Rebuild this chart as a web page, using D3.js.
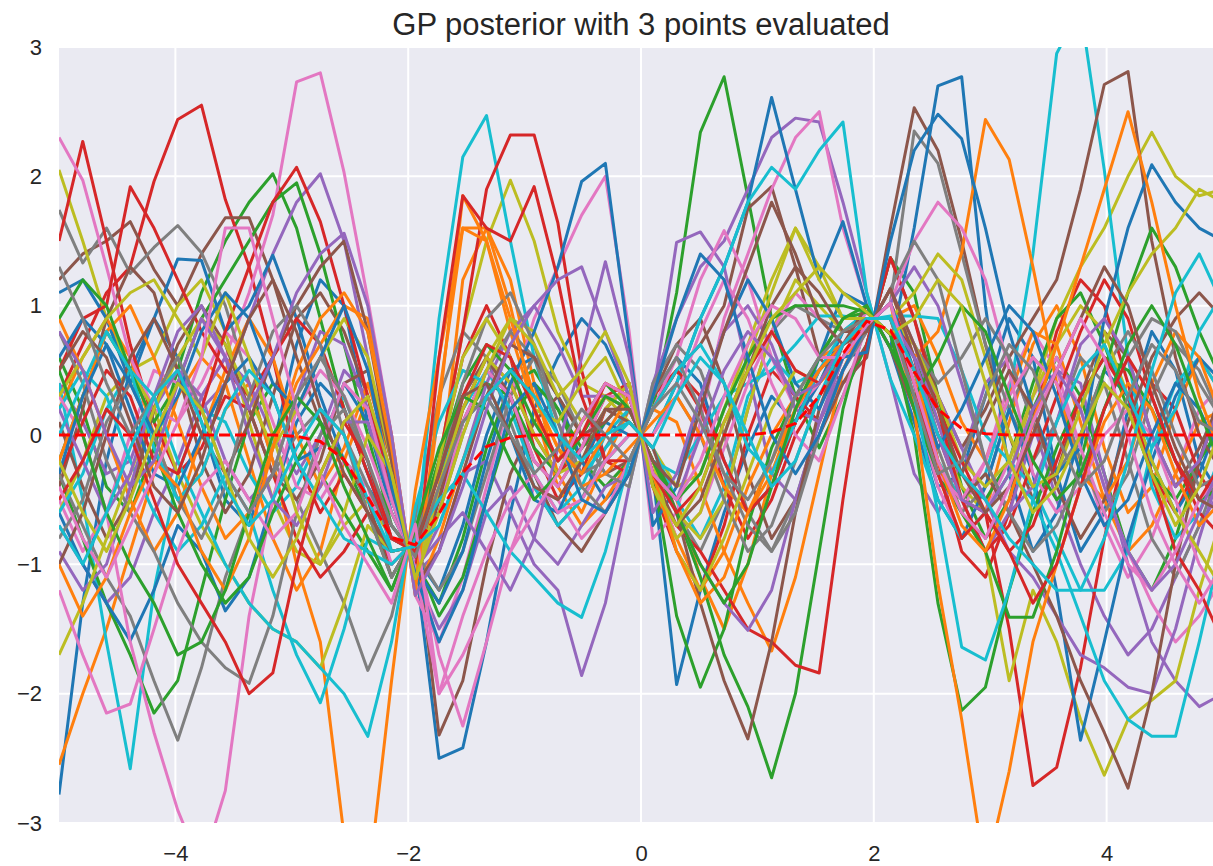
<!DOCTYPE html>
<html><head><meta charset="utf-8">
<script src="https://cdn.jsdelivr.net/npm/d3@7"></script>
<style>body{margin:0;background:#fff}svg{display:block}</style>
</head><body>
<svg id="chart" width="1213" height="866"></svg>
<script>
const titleText = "GP posterior with 3 points evaluated";
const xTicks = [-4, -2, 0, 2, 4];
const xTickLabels = ["\u22124", "\u22122", "0", "2", "4"];
const yTicks = [-3, -2, -1, 0, 1, 2, 3];
const yTickLabels = ["\u22123", "\u22122", "\u22121", "0", "1", "2", "3"];

const xs = [-5.000,-4.796,-4.592,-4.388,-4.184,-3.980,-3.776,-3.571,-3.367,-3.163,-2.959,-2.755,-2.551,-2.347,-2.143,-1.939,-1.735,-1.531,-1.327,-1.122,-0.918,-0.714,-0.510,-0.306,-0.102,0.102,0.306,0.510,0.714,0.918,1.122,1.327,1.531,1.735,1.939,2.143,2.347,2.551,2.755,2.959,3.163,3.367,3.571,3.776,3.980,4.184,4.388,4.592,4.796,5.000];

const meanLine = [0,0,0,0,0,0,0,0,0,0,-0.01,-0.05,-0.19,-0.48,-0.79,-0.85,-0.61,-0.29,-0.09,-0.02,0,0,0,0,0,0,0,0,0,0,0.02,0.09,0.30,0.63,0.88,0.81,0.49,0.20,0.05,0.01,0,0,0,0,0,0,0,0,0,0];

const s00 = [-2.78,-1.3,-0.2,0.5,0.9,0.6,0.1,-0.5,-0.7,-0.1,0.7,1.2,1.0,0.1,-0.6, -0.99,-2.5,-2.42,-1.6,-0.6,0.2,0.6,0.9,0.7,0.3, -0.3,-1.93,-1.2,-0.6,-0.1,0.3,0.1,0.4,0.8,0.95, 0.78,0.2,-0.4,-0.3,0.3,0.9,0.6,-0.3,-0.9,-0.6,0.2,0.8,0.5,-0.2,-0.5];
const s01 = [-2.55,-2.0,-1.5,-0.9,-0.3,0.3,0.6,0.4,-0.2,-0.8,-1.2,-0.9,-0.2,0.3,-0.3, -1.11,-0.4,1.2,1.6,1.2,0.4,-0.3,-0.6,-0.2,0.2, -0.2,-0.5,-1.1,-1.5,-1.0,-0.3,0.2,0.6,0.7,0.9, 0.9,0.4,-0.3,-0.8,-0.6,0.1,0.7,1.0,0.6,-0.1,-0.6,-0.4,0.2,0.6,0.3];
const s02 = [0.6,0.2,-0.4,-0.6,-0.1,0.5,1.1,1.5,1.8,2.02,1.6,0.9,0.2,-0.3,-0.6, -0.99,-1.3,-0.8,-0.1,0.4,0.5,0.2,-0.2,-0.4,-0.2, 0.2,1.1,2.34,2.77,1.84,0.9,0.3,-0.1,0.3,0.7, 1.37,1.1,0.3,-0.4,-0.8,-0.5,0.2,0.6,0.3,-0.3,-0.9,-1.2,-0.8,-0.2,0.3];
const s03 = [0.3,0.7,1.1,1.3,1.96,2.44,2.55,1.82,1.3,0.6,-0.2,-0.6,-0.3,-0.6,-1.0, -0.81,-0.2,0.6,1.0,0.6,-0.1,-0.5,-0.3,0.2,0.4, -0.4,-0.9,-1.2,-0.7,0.0,0.5,0.3,0.1,0.5,0.85, 1.02,0.6,-0.2,-0.9,-1.1,-0.6,0.1,0.8,1.2,1.0,0.4,-0.3,-0.6,-0.2,0.3];
const s04 = [0.4,0.1,-0.3,-0.2,0.3,0.5,0.2,0.4,0.9,1.4,1.8,2.02,1.5,0.6,-0.4, -1.07,-0.9,-0.3,-0.2,-0.6,-1.0,-1.2,-1.86,-1.3,-0.4, 0.4,0.9,1.3,1.5,1.9,2.3,2.45,2.42,1.8,1.1, 0.43,-0.3,-0.6,-0.2,0.4,0.6,0.1,-0.5,-1.0,-1.4,-1.7,-1.5,-1.1,-0.7,-0.4];
const s05 = [1.2,1.4,1.5,1.65,1.28,1.0,1.4,1.68,1.68,1.2,0.6,0.1,-0.2,-0.5,-1.1, -0.77,-2.32,-1.9,-1.0,-0.3,0.1,0.3,0.0,-0.3,-0.2, 0.2,0.5,0.7,1.0,1.75,1.92,1.3,0.6,0.4,0.6, 1.6,2.53,2.2,1.5,0.7,0.0,-0.5,-0.3,0.3,0.8,0.6,0.0,-0.4,-0.1,0.3];
const s06 = [-0.5,-0.9,-0.6,0.0,0.5,0.4,0.3,0.6,1.1,1.7,2.73,2.8,2.03,1.05,0.0, -1.24,-1.6,-1.1,-0.4,0.3,0.9,1.3,1.7,2.0,0.8, -0.8,-0.6,0.1,0.9,1.4,1.9,2.3,2.5,1.6,1.0, 0.67,0.2,-0.3,-0.6,-0.2,0.4,0.8,0.5,-0.1,-0.7,-1.1,-0.8,-0.3,0.2,0.4];
const s07 = [1.74,1.33,1.6,1.25,1.45,1.62,1.41,1.0,0.4,-0.2,-0.5,-0.9,-1.3,-1.82,-1.4, -0.64,0.3,0.8,0.6,0.1,-0.4,-0.7,-0.5,-0.1,0.2, -0.2,-0.6,-0.9,-0.5,0.2,0.8,1.0,0.9,0.8,0.85, 1.02,2.35,2.1,1.4,0.7,0.2,-0.2,0.1,0.6,0.4,-0.2,-0.8,-1.1,-0.7,-0.2];
const s08 = [2.05,1.5,0.9,0.5,0.6,1.0,1.2,0.8,0.1,-0.5,-0.9,-1.0,-0.7,-0.5,-0.8, -0.9,-0.2,0.8,1.5,1.97,1.5,0.8,0.4,0.3,0.1, -0.1,-0.4,-0.3,0.2,0.7,1.2,1.6,1.3,0.9,0.95, 0.78,0.5,0.0,-0.4,-0.6,-0.3,0.3,0.9,1.3,1.6,2.0,2.34,2.0,1.85,1.9];
const s09 = [0.4,-0.5,-1.6,-2.58,-1.2,-0.3,0.2,0.1,-0.3,-0.6,-0.4,0.0,0.3,-0.2,-0.9, -0.86,0.9,2.15,2.47,1.5,0.6,0.0,-0.3,-0.1,0.1, -0.1,-0.5,-0.8,-0.4,0.3,0.6,0.4,0.5,0.8,0.95, 0.78,0.4,-0.2,-0.5,-0.3,0.3,1.4,2.95,3.3,2.05,0.6,-0.4,-0.8,-0.6,-0.1];
const s10 = [1.1,1.2,0.9,0.4,0.9,1.36,1.35,0.8,1.0,1.39,0.9,0.3,-0.2,-0.4,-0.7, -0.94,-1.2,-0.7,0.0,0.5,0.6,0.3,-0.2,-0.5,-0.3, 0.3,0.6,0.4,-0.2,-0.6,-0.4,0.1,0.6,1.1,1.0, 0.67,1.6,2.7,2.77,1.0,-0.3,-0.9,-0.6,0.0,0.5,0.3,-0.2,-0.6,-0.3,0.2];
const s11 = [0.2,0.6,0.9,0.6,0.0,-0.5,-0.3,0.2,0.4,-0.2,-1.0,-1.6,-3.1,-3.5,-1.9, -0.43,0.6,1.6,1.6,1.0,0.2,-0.4,-0.7,-0.5,-0.2, 0.2,0.1,-0.4,-0.9,-1.3,-1.67,-1.1,-0.3,0.5,0.9, 0.9,1.0,0.6,0.1,-0.2,0.3,0.8,0.7,0.1,-0.5,-0.9,-0.7,-0.3,0.1,0.2];
const s12 = [-0.3,-0.8,-1.3,-1.7,-2.15,-1.9,-1.2,-0.5,0.1,0.4,0.2,-0.3,-0.6,-0.9,-1.2, -0.73,-0.3,0.1,0.4,0.3,-0.1,-0.3,0.0,0.3,0.2, -0.2,-0.6,-1.1,-1.7,-2.1,-2.65,-2.0,-0.9,0.2,0.9, 0.9,0.6,0.1,-0.3,-0.5,-0.2,0.4,0.9,1.1,0.7,0.2,-0.3,-0.5,-0.2,0.1];
const s13 = [1.5,2.27,1.5,0.7,0.1,-0.3,-0.1,0.3,0.2,-0.3,-0.8,-1.1,-0.9,-0.6,-0.9, -0.86,-0.2,0.8,1.9,2.32,2.32,1.64,0.5,-0.2,-0.3, 0.3,0.5,0.2,-0.4,-0.8,-0.5,0.0,0.3,0.6,0.9, 0.9,0.5,0.0,-0.5,-0.6,-1.5,-2.71,-2.57,-1.8,-0.8,0.0,0.4,0.2,-0.3,-0.6];
const s14 = [-0.7,-1.0,-1.3,-1.1,-0.6,-0.2,0.3,0.6,0.4,0.0,-0.3,0.0,0.5,0.3,-0.4, -1.07,-1.5,-1.2,-0.6,-0.4,-0.8,-1.0,-0.7,-0.4,-0.3, 0.3,1.49,1.57,1.3,0.5,-0.3,-0.5,0.0,0.5,0.8, 1.13,0.7,0.1,-0.5,-0.9,-0.6,0.0,0.5,0.4,-0.3,-1.0,-1.6,-1.9,-2.1,-2.0];
const s15 = [-0.4,0.2,0.9,1.3,1.1,0.5,-0.2,-0.6,-0.3,0.3,0.9,1.1,0.8,0.3,-0.5, -1.03,-0.6,0.1,0.5,0.3,-0.3,-0.7,-0.9,-0.6,-0.3, 0.3,0.7,0.9,0.4,-0.3,-0.8,-0.5,0.0,0.4,0.7, 1.37,0.9,0.3,-0.1,0.2,0.6,0.9,1.2,1.9,2.71,2.81,1.5,0.6,0.0,-0.3];
const s16 = [2.3,1.97,1.3,0.6,0.2,0.1,0.4,0.8,0.6,0.1,-0.4,-0.5,-0.2,-0.4,-1.0, -0.81,-1.7,-2.25,-1.6,-0.9,-0.4,-0.5,-0.8,-0.6,-0.2, 0.2,0.6,1.2,1.58,1.2,0.6,0.2,0.4,0.7,0.95, 0.78,0.3,-0.4,-0.8,-0.6,-0.2,0.3,0.6,0.2,-0.4,-0.9,-1.3,-1.6,-1.4,-1.1];
const s17 = [-0.3,-0.7,-1.1,-1.4,-1.9,-2.36,-1.8,-1.1,-0.6,-0.3,0.0,0.2,0.0,-0.4,-0.8, -0.9,-1.2,-0.9,-0.3,0.3,0.6,0.4,0.0,-0.3,-0.4, 0.4,0.7,0.5,0.0,-0.6,-0.9,-0.5,0.1,0.6,0.9, 0.9,0.5,-0.1,-0.6,-0.4,0.2,0.6,0.4,-0.2,-0.6,-0.3,0.3,0.7,0.5,0.1];
const s18 = [-0.6,-0.2,0.3,0.5,0.2,-0.3,-0.7,-1.0,-1.3,-1.5,-1.6,-1.8,-1.3,-0.7,-0.9, -0.86,-0.4,0.2,0.6,0.9,0.8,0.4,0.1,0.3,0.2, -0.2,-0.6,-0.8,-0.5,0.2,0.8,1.2,1.0,0.8,0.9, 0.9,0.4,-0.2,-0.6,-0.9,-1.9,-1.2,-1.6,-2.2,-2.63,-2.2,-2.05,-1.9,-1.2,-0.6];
const s19 = [0.2,0.5,0.3,-0.2,-0.6,-0.9,-0.7,-0.3,-0.6,-1.2,-1.7,-2.07,-1.5,-0.8,-0.9, -0.86,-0.3,0.2,0.5,0.2,-0.3,-0.6,-0.4,0.0,0.2, -0.2,-0.3,0.0,0.3,0.4,0.5,0.7,0.92,0.92,0.89, 0.92,0.92,0.9,0.5,0.0,-0.2,-0.4,-0.8,-1.2,-1.2,-0.9,-0.1,0.4,0.6,0.3];
const s20 = [-0.6,-1.0,-1.3,-1.59,-1.2,-0.7,-0.9,-1.36,-1.1,-0.5,0.1,0.4,0.2,-0.3,-0.8, -0.9,-0.5,0.1,0.3,0.0,-0.5,-0.6,-0.2,0.1,0.0, 0.0,0.4,0.9,1.3,1.8,2.61,1.9,1.2,1.65,1.0, 0.67,0.1,-0.5,-0.8,-0.4,0.2,-0.3,-1.2,-2.36,-1.6,-0.8,-0.2,0.3,0.6,0.4];
const s21 = [0.9,0.5,0.0,-0.5,-0.9,-0.6,0.0,0.5,0.9,0.6,0.0,-0.4,-0.1,0.4,-0.2, -1.16,0.2,1.85,1.5,0.8,0.2,-0.2,0.1,0.4,0.3, -0.3,-0.8,-1.2,-0.9,-0.4,0.0,0.3,0.4,0.6,0.8, 1.13,0.6,0.8,1.41,2.44,2.13,1.3,0.4,-0.3,-0.5,-0.2,0.4,0.8,0.6,0.1];
const s22 = [-0.2,0.3,0.8,0.5,0.1,0.4,0.9,1.2,1.5,1.8,1.95,1.4,0.7,0.0,-0.7, -0.94,-1.4,-1.1,-0.5,0.1,0.4,0.2,-0.1,0.1,0.3, -0.3,-1.4,-1.95,-1.5,-0.7,-0.1,0.3,0.6,0.9,0.95, 0.78,0.0,-1.3,-2.13,-1.95,-1.2,-0.6,-0.1,0.3,0.6,0.5,0.2,-0.2,-0.5,-0.4];
const s23 = [0.5,0.9,1.0,1.92,1.6,1.2,0.8,0.5,0.3,0.6,0.9,0.7,0.2,-0.3,-0.8, -0.9,-0.5,0.2,0.6,0.4,0.0,-0.3,-0.1,0.3,0.4, -0.4,-0.7,-0.9,-1.2,-1.5,-1.6,-1.78,-1.84,-0.5,0.7, 1.37,0.9,0.2,-0.5,-0.9,-0.7,-0.2,0.3,0.8,1.2,0.9,0.3,-0.2,-0.6,-0.8];
const s24 = [-0.9,-1.2,-1.0,-0.4,0.2,0.5,0.3,-0.2,-0.5,-0.3,0.3,0.8,0.7,0.2,-0.4, -1.07,-0.7,-0.2,0.4,0.8,1.0,0.7,0.3,0.3,0.2, -0.2,-0.6,-1.0,-1.3,-1.51,-1.2,-0.5,0.1,0.6,0.9, 0.9,0.6,0.3,-0.1,-0.5,-0.9,-1.1,-1.4,-1.7,-1.8,-1.95,-2.0,-1.5,-0.8,-0.2];
const s25 = [0.1,-0.4,-0.8,-0.5,0.2,0.7,1.0,0.7,0.2,-0.3,-0.5,-0.2,0.4,0.5,-0.2, -1.16,-0.5,0.3,0.6,0.3,-0.2,-0.4,-0.1,0.2,0.1, -0.1,-0.6,-1.3,-1.9,-2.35,-1.6,-0.6,0.2,0.7,1.0, 0.67,0.2,-0.3,-0.5,-0.3,-0.6,-1.0,-1.4,-1.9,-2.3,-2.73,-2.0,-1.0,-0.2,0.4];
const s26 = [0.3,0.0,-0.6,-1.6,-2.3,-2.9,-3.35,-2.75,-1.4,-0.5,0.2,0.5,0.3,-0.1,-0.6, -0.99,-0.6,0.1,0.5,0.3,-0.2,-0.4,-0.1,0.3,0.3, -0.3,-0.8,-0.6,-0.1,0.4,0.8,1.1,0.9,0.7,0.85, 1.02,1.5,1.8,1.6,1.2,0.5,-0.3,-0.6,-0.4,0.0,0.2,0.0,-0.5,-1.0,-1.3];
const s27 = [0.8,0.4,-0.2,-0.6,-0.9,-1.3,-1.6,-1.8,-1.92,-1.4,-0.6,0.0,0.2,-0.2,-0.8, -0.9,-0.6,0.0,0.5,0.8,0.6,0.1,-0.3,-0.2,0.0, 0.0,0.3,0.0,-0.5,-0.9,-0.7,-0.2,0.3,0.6,0.9, 0.9,0.7,0.4,0.6,0.9,0.6,0.1,-0.3,0.0,0.5,0.8,0.5,0.0,-0.4,-0.3];
const s28 = [-1.7,-1.3,-0.8,-0.3,0.2,0.6,0.9,0.7,0.3,-0.1,0.2,0.6,0.9,0.6,-0.2, -1.16,-0.4,0.2,0.6,0.4,0.0,-0.3,-0.2,0.2,0.4, -0.4,-0.8,-0.6,0.0,0.6,1.1,1.6,1.2,0.9,0.9, 0.9,0.7,0.3,-0.2,-0.4,-0.2,0.3,0.7,1.0,0.8,0.3,-0.2,-0.6,-0.9,-1.2];
const s29 = [-0.6,-0.3,0.2,0.5,0.3,-0.2,-0.6,-1.0,-1.3,-1.5,-1.6,-1.8,-2.0,-2.33,-1.6, -0.56,0.1,0.5,0.4,0.0,-0.4,-0.7,-0.5,-0.2,0.0, 0.0,0.4,0.9,1.3,1.8,2.07,1.9,2.2,2.42,1.1, 0.43,0.0,-0.5,-0.8,-0.6,-0.3,-0.5,-0.9,-1.4,-1.9,-2.2,-2.33,-2.33,-1.6,-0.8];
const s30 = [0.6,0.9,0.7,0.2,-0.3,-0.4,0.0,0.4,0.6,0.3,-0.2,-0.1,0.4,0.1,-0.5, -1.03,-1.3,-0.9,-0.2,0.4,0.8,1.3,1.96,2.1,0.7, -0.7,-0.4,0.3,0.8,1.2,0.9,0.4,0.2,0.6,0.64, 1.5,2.2,2.48,2.29,1.6,0.8,0.2,-0.3,-0.1,0.9,1.6,2.09,1.8,1.6,1.5];
const s31 = [-0.2,0.3,0.8,1.0,0.6,0.1,-0.4,-0.8,-0.6,-0.1,0.4,0.7,1.0,0.9,0.0, -1.24,-0.8,-0.2,0.3,0.5,0.3,-0.1,-0.4,-0.3,-0.1, 0.1,0.3,0.0,-0.4,-0.6,-0.3,0.2,0.5,0.7,0.85, 1.02,0.2,-1.15,-2.2,-3.4,-2.6,-1.6,-1.0,-0.4,0.1,0.4,0.2,-0.3,-0.7,-0.5];
const s32 = [0.9,1.2,1.0,0.5,-0.1,-0.6,-1.0,-1.3,-1.1,-0.6,-0.2,0.1,-0.2,-0.6,-1.1, -0.77,-0.2,0.4,0.7,0.5,0.1,-0.2,0.0,0.3,0.2, -0.2,-0.5,-0.3,0.2,0.6,0.9,1.0,1.0,1.0,0.95, 0.78,0.2,-0.3,-0.6,-0.9,-1.41,-1.41,-0.9,-0.2,0.5,1.1,1.6,1.3,0.8,0.4];
const s33 = [-0.3,0.1,0.5,0.3,-0.2,-0.3,0.2,0.8,1.3,1.8,2.07,1.65,1.0,0.3,-0.4, -1.07,0.6,1.85,1.6,1.5,1.92,1.2,0.3,-0.2,-0.2, 0.2,0.5,0.3,-0.2,-0.6,-0.4,0.1,0.5,0.7,0.9, 0.9,0.5,0.2,-0.2,-0.6,-0.9,-0.7,-0.2,0.3,0.6,0.3,-0.3,-0.9,-1.2,-1.6];
const s34 = [0.2,-0.2,-0.6,-0.3,0.3,0.8,1.0,0.6,0.0,-0.5,-0.7,-0.4,0.1,0.1,-0.5, -1.03,-0.8,-0.6,-0.9,-1.2,-0.8,-0.1,0.6,1.34,0.6, -0.6,-0.3,0.3,0.8,1.0,0.7,0.2,0.1,0.5,0.85, 1.02,1.3,1.0,0.4,-0.2,-0.6,-0.4,0.1,0.7,0.9,0.6,0.0,-0.4,-0.2,0.3];
const s35 = [-1.0,-0.6,0.0,0.6,0.9,0.5,0.0,-0.3,0.1,0.6,1.0,1.3,1.5,0.8,-0.2, -1.16,-0.9,-0.3,0.3,0.7,0.6,0.3,0.0,0.1,0.3, -0.3,-0.7,-0.5,0.0,0.5,1.0,1.3,1.1,0.8,0.8, 1.13,0.6,0.0,-0.3,0.1,0.5,0.2,-0.4,-0.8,-0.5,0.1,0.6,0.9,1.1,0.9];
const s36 = [-1.2,-1.7,-2.15,-2.08,-1.5,-0.9,-0.4,-0.2,-0.5,-0.8,-0.6,-0.1,0.4,0.2,-0.5, -1.03,-2.0,-1.4,-0.9,-0.5,-0.3,-0.6,-0.5,-0.2,0.0, 0.0,0.3,0.8,1.2,0.9,0.4,0.0,-0.2,0.3,0.85, 1.02,0.4,-0.3,-0.5,-0.2,0.3,0.6,0.4,-0.1,-0.6,-1.0,-1.2,-0.9,-0.5,-0.3];
const s37 = [-0.8,-0.5,0.1,0.4,0.0,-0.5,-0.8,-0.4,0.3,0.8,1.0,0.7,0.0,-0.6,-1.1, -0.77,-0.3,0.4,0.9,1.1,0.7,0.1,-0.4,-0.6,-0.3, 0.3,0.6,0.2,-0.3,-0.7,-0.9,-0.6,0.0,0.5,0.8, 1.13,1.5,1.2,0.5,-0.2,-0.6,-0.9,-0.7,-0.3,0.2,0.6,0.9,0.8,0.4,0.1];
const s38 = [0.3,0.6,0.9,1.1,1.2,0.9,0.6,1.1,0.6,0.0,-0.6,-1.0,-0.6,0.0,-0.3, -1.11,-0.2,0.6,0.9,0.6,0.2,0.1,0.4,0.6,0.2, -0.2,-0.9,-1.2,-0.8,-0.3,0.2,0.5,0.4,0.7,0.9, 0.9,1.1,1.4,1.2,0.6,0.0,-0.4,-0.3,0.2,0.7,1.1,1.4,1.6,1.9,1.8];
const s39 = [0.0,0.4,0.8,0.5,-0.1,-0.5,-0.3,0.2,0.5,0.3,-0.2,-0.5,-0.8,-0.9,-1.0, -0.81,-0.5,-0.3,-0.6,-0.9,-1.1,-1.3,-1.41,-0.9,-0.2, 0.2,0.5,0.7,0.4,-0.1,-0.3,0.1,0.5,0.7,0.9, 0.9,0.3,-0.6,-1.64,-1.74,-1.2,-0.5,0.1,0.5,0.7,0.3,-0.1,0.2,0.8,1.1];
const s40 = [-0.3,0.3,0.7,0.4,0.0,0.3,0.8,1.1,0.9,0.4,0.2,0.6,1.0,0.5,-0.4, -1.07,-1.6,-1.2,-0.5,0.2,0.4,0.0,-0.5,-0.6,-0.3, 0.3,0.9,1.4,1.2,0.6,0.0,-0.3,0.0,0.5,0.85, 1.02,0.5,-0.1,0.2,0.6,1.0,0.8,0.3,-0.3,-0.7,-0.5,0.0,0.4,0.2,-0.2];
const s41 = [-1.0,-1.4,-1.1,-0.6,-0.2,-0.4,-0.9,-1.2,-0.8,-0.1,0.5,0.9,1.1,0.8,-0.1, -1.2,0.3,1.6,1.5,0.9,0.3,-0.1,-0.3,0.0,0.3, -0.3,-0.9,-1.3,-1.1,-0.6,-0.2,0.2,0.5,0.7,0.9, 0.9,0.5,-0.2,-0.7,-0.9,-0.5,0.1,0.7,1.3,1.9,2.5,1.8,1.0,0.3,-0.2];
const s42 = [0.5,0.0,-0.6,-1.0,-1.3,-1.7,-1.6,-1.2,-0.6,0.0,0.3,0.1,-0.4,-0.8,-1.2, -0.73,-0.1,0.3,0.2,-0.2,-0.5,-0.3,0.1,0.4,0.2, -0.2,-0.6,-1.0,-1.3,-1.0,-0.4,0.2,0.6,0.9,1.0, 0.67,0.3,0.6,1.0,0.8,0.3,-0.2,-0.5,-0.3,0.2,0.7,1.0,0.7,0.2,-0.3];
const s43 = [-0.5,-0.2,0.2,0.0,-0.5,-1.0,-1.3,-1.6,-2.0,-1.84,-1.0,-0.3,0.1,-0.2,-0.8, -0.9,-0.3,0.3,0.7,0.6,0.2,-0.2,0.0,0.4,0.3, -0.3,-0.6,-0.4,0.1,0.5,0.8,0.5,0.4,0.7,0.9, 0.9,0.4,-0.3,-0.8,-0.6,-0.9,-1.3,-1.0,-0.4,0.2,0.6,0.3,-0.2,-0.5,-0.2];
const s44 = [0.8,0.5,0.0,-0.4,-0.2,0.4,0.9,0.6,0.2,0.6,1.1,1.4,1.56,1.0,0.0, -1.24,-0.9,-0.4,0.2,0.7,1.0,1.2,1.3,0.8,0.3, -0.3,-0.5,0.0,0.5,0.8,0.6,0.3,0.4,0.7,0.9, 0.9,0.6,0.0,-0.5,-0.6,-0.3,0.2,0.5,0.2,-0.4,-0.9,-1.2,-1.0,-0.6,-0.2];
const s45 = [0.5,0.8,0.6,0.1,-0.4,-0.6,-0.2,0.4,0.9,1.2,0.8,0.2,-0.3,-0.6,-0.9, -0.86,-0.3,0.3,0.4,0.0,-0.4,-0.5,-0.2,0.2,0.2, -0.2,-0.4,0.2,0.8,1.3,1.8,1.4,0.9,0.7,0.8, 1.13,0.7,0.2,-0.3,-0.6,-0.4,0.0,0.5,0.9,1.3,1.0,0.4,-0.1,-0.5,-0.6];
const s46 = [-0.4,-0.8,-1.1,-0.7,-0.3,0.1,0.6,1.6,1.6,0.9,0.2,-0.3,-0.7,-1.0,-1.3, -0.69,-2.0,-1.7,-1.3,-0.9,-0.6,-0.3,0.1,0.4,0.3, -0.3,-0.5,-0.2,0.3,0.7,1.0,0.9,0.6,0.6,0.85, 1.02,0.4,-0.2,-0.6,-0.8,-0.4,0.1,0.5,0.9,0.6,0.0,-0.6,-1.0,-1.3,-1.0];
const s47 = [1.3,0.9,0.4,0.0,0.3,0.6,0.2,-0.3,-0.6,-0.3,0.3,0.6,0.3,-0.2,-0.7, -0.94,-0.4,0.1,0.3,0.0,-0.3,-0.1,0.2,0.0,-0.2, 0.2,0.4,0.1,-0.3,-0.5,-0.2,0.3,0.6,0.8,0.9, 0.9,0.3,-0.3,-0.2,0.3,0.7,0.5,0.0,-0.4,-0.2,0.3,0.7,0.5,0.1,0.0];
const s48 = [-0.2,-0.6,-0.9,-0.5,0.0,0.4,0.2,-0.3,-0.8,-1.1,-0.8,-0.3,0.1,0.3,-0.3, -1.11,-0.6,0.0,0.5,0.9,0.7,0.3,0.5,0.8,0.4, -0.4,-0.7,-0.4,0.1,0.5,0.9,1.1,1.3,1.1,0.95, 0.78,0.9,1.2,1.0,0.4,-0.2,-0.6,-0.4,0.0,0.4,0.2,-0.3,-0.7,-0.4,0.1];
const s49 = [-0.7,-1.0,-0.6,-0.1,0.3,0.5,0.1,-0.4,-0.7,-0.5,-0.1,0.2,0.0,-0.5,-0.9, -0.86,-0.7,-0.2,0.3,0.5,0.3,0.0,-0.2,0.0,0.1, -0.1,0.3,0.6,0.4,0.0,-0.4,-0.2,0.3,0.7,0.9, 0.9,0.5,0.0,-0.3,-0.5,-0.8,-1.0,-1.2,-1.2,-0.8,-0.2,0.5,1.1,1.4,1.0];

const samples = [s00,s01,s02,s03,s04,s05,s06,s07,s08,s09,s10,s11,s12,s13,s14,s15,s16,s17,s18,s19,
  s20,s21,s22,s23,s24,s25,s26,s27,s28,s29,s30,s31,s32,s33,s34,s35,s36,s37,s38,s39,
  s40,s41,s42,s43,s44,s45,s46,s47,s48,s49];

const palette = ["#1f77b4","#ff7f0e","#2ca02c","#d62728","#9467bd","#8c564b","#e377c2","#7f7f7f","#bcbd22","#17becf"];

const svg = d3.select("#chart");
const x = d3.scaleLinear().domain([-5, 5]).range([59, 1223]);
const y = d3.scaleLinear().domain([-3, 3]).range([823, 47]);
const font = "'Liberation Sans', Arial, Helvetica, sans-serif";

svg.append("rect")
  .attr("x", x(-5)).attr("y", y(3))
  .attr("width", x(5) - x(-5)).attr("height", y(-3) - y(3))
  .attr("fill", "#EAEAF2");

svg.append("defs").append("clipPath").attr("id", "plotclip")
  .append("rect")
  .attr("x", x(-5)).attr("y", y(3))
  .attr("width", x(5) - x(-5)).attr("height", y(-3) - y(3));

const grid = svg.append("g");
grid.selectAll("line.v").data(xTicks).join("line").attr("class", "v")
  .attr("x1", d => x(d)).attr("x2", d => x(d))
  .attr("y1", y(3)).attr("y2", y(-3))
  .attr("stroke", "#ffffff").attr("stroke-width", 2);
grid.selectAll("line.h").data(yTicks).join("line").attr("class", "h")
  .attr("x1", x(-5)).attr("x2", x(5))
  .attr("y1", d => y(d)).attr("y2", d => y(d))
  .attr("stroke", "#ffffff").attr("stroke-width", 2);

const line = d3.line().x((d, i) => x(xs[i])).y(d => y(d));
const plot = svg.append("g").attr("clip-path", "url(#plotclip)");
plot.selectAll("path.sample").data(samples).join("path").attr("class", "sample")
  .attr("d", d => line(d))
  .attr("fill", "none")
  .attr("stroke", (d, i) => palette[i % 10])
  .attr("stroke-width", 3)
  .attr("stroke-linejoin", "round");

plot.append("path")
  .attr("d", line(meanLine))
  .attr("fill", "none")
  .attr("stroke", "#ff0000")
  .attr("stroke-width", 3)
  .attr("stroke-dasharray", "11,5");

const xAxis = d3.axisBottom(x).tickValues(xTicks)
  .tickFormat((d, i) => xTickLabels[i]).tickSize(0).tickPadding(22);
const gx = svg.append("g").attr("transform", `translate(0,${y(-3)})`).call(xAxis);
gx.select(".domain").remove();
gx.selectAll("text").attr("font-family", font).attr("font-size", 22).attr("fill", "#262626");

const yAxis = d3.axisLeft(y).tickValues(yTicks)
  .tickFormat((d, i) => yTickLabels[i]).tickSize(0).tickPadding(17);
const gy = svg.append("g").attr("transform", `translate(${x(-5)},0)`).call(yAxis);
gy.select(".domain").remove();
gy.selectAll("text").attr("font-family", font).attr("font-size", 22).attr("fill", "#262626");

svg.append("text")
  .attr("x", (x(-5) + x(5)) / 2).attr("y", 35)
  .attr("text-anchor", "middle")
  .attr("font-family", font).attr("font-size", 31)
  .attr("fill", "#262626")
  .text(titleText);
</script>
</body></html>
